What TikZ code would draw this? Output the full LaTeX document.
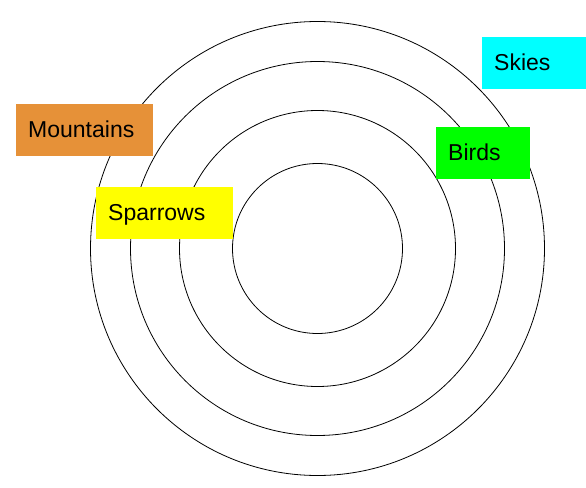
\documentclass[tikz,border=0pt]{standalone}
\usepackage{fontspec}
\setmainfont{Liberation Sans}
\definecolor{orangebox}{HTML}{E69138}
\definecolor{yellowbox}{HTML}{FFFF00}
\definecolor{greenbox}{HTML}{00FF00}
\definecolor{cyanbox}{HTML}{00FFFF}
\begin{document}
\begin{tikzpicture}[x=1pt,y=1pt,
  ring/.style={draw=black, line width=0.8pt},
  labelbox/.style={anchor=north west, minimum height=52pt, inner xsep=12pt, inner ysep=0pt,
    align=left, text height=18pt, text depth=4pt, font=\fontsize{23}{26}\selectfont}]
\useasboundingbox (0,0) rectangle (586,-487);
\coordinate (c) at (317.5,-248.5);
\draw[ring] (c) circle[radius=227];
\draw[ring] (c) circle[radius=187];
\draw[ring] (c) circle[radius=138];
\draw[ring] (c) circle[radius=85];
\node[labelbox, fill=orangebox, text width=113pt] (mountains) at (16,-104) {Mountains};
\node[labelbox, fill=yellowbox, text width=113pt] (sparrows) at (96,-187) {Sparrows};
\node[labelbox, fill=greenbox, text width=70pt] (birds) at (436,-127) {Birds};
\node[labelbox, fill=cyanbox, text width=80pt] (skies) at (482,-37) {Skies};
\end{tikzpicture}
\end{document}
